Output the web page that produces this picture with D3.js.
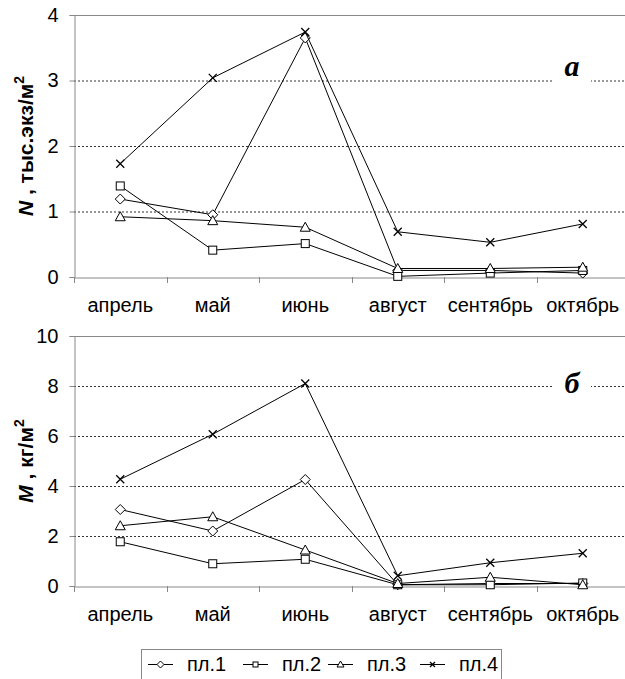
<!DOCTYPE html>
<html>
<head>
<meta charset="utf-8">
<script src="https://cdn.jsdelivr.net/npm/d3@7"></script>
<style>
  body { margin: 0; background: #fff; }
  text { font-family: "Liberation Sans", Arial, sans-serif; }
</style>
</head>
<body>
<div id="chart"></div>
<script>
var months = ['апрель', 'май', 'июнь', 'август', 'сентябрь', 'октябрь'];
var seriesNames = ['пл.1', 'пл.2', 'пл.3', 'пл.4'];
var markers = ['diamond', 'square', 'triangle', 'cross'];

// N, тыс.экз/м2
var densityPl1 = [1.19, 0.95, 3.65, 0.10, 0.10, 0.06];
var densityPl2 = [1.39, 0.41, 0.51, 0.01, 0.06, 0.10];
var densityPl3 = [0.92, 0.86, 0.76, 0.13, 0.13, 0.15];
var densityPl4 = [1.73, 3.04, 3.74, 0.69, 0.53, 0.81];
var densityTicks = [0, 1, 2, 3, 4];

// M, кг/м2
var massPl1 = [3.06, 2.20, 4.26, 0.05, 0.10, 0.10];
var massPl2 = [1.77, 0.89, 1.07, 0.05, 0.05, 0.12];
var massPl3 = [2.41, 2.77, 1.44, 0.10, 0.35, 0.05];
var massPl4 = [4.27, 6.07, 8.10, 0.41, 0.93, 1.31];
var massTicks = [0, 2, 4, 6, 8, 10];

var width = 625, height = 679;
var svg = d3.select('#chart').append('svg')
    .attr('width', width)
    .attr('height', height);

function marker(g, type, size) {
    var s = size / 2;
    if (type === 'diamond') {
        g.append('path').attr('d', 'M0,' + (-s - 1) + 'L' + (s + 1) + ',0L0,' + (s + 1) + 'L' + (-s - 1) + ',0Z')
            .attr('fill', '#fff').attr('stroke', '#000');
    } else if (type === 'square') {
        g.append('rect').attr('x', -s).attr('y', -s).attr('width', size).attr('height', size)
            .attr('fill', '#fff').attr('stroke', '#000');
    } else if (type === 'triangle') {
        g.append('path').attr('d', 'M0,' + (-s - 1) + 'L' + (s + 1) + ',' + s + 'L' + (-s - 1) + ',' + s + 'Z')
            .attr('fill', '#fff').attr('stroke', '#000');
    } else {
        g.append('path').attr('d', 'M' + (-s) + ',' + (-s) + 'L' + s + ',' + s + 'M' + s + ',' + (-s) + 'L' + (-s) + ',' + s)
            .attr('fill', 'none').attr('stroke', '#000').attr('stroke-width', 1.3);
    }
}

function panel(opts) {
    var left = 74, right = 629, top = opts.top, bottom = opts.bottom;
    var g = svg.append('g');

    var x = d3.scaleBand().domain(months).range([left, right]);
    var y = d3.scaleLinear().domain([0, opts.max]).range([bottom, top]);

    // dashed grid
    g.selectAll('line.grid').data(opts.ticks.slice(1, -1)).enter().append('line')
        .attr('x1', left).attr('x2', right)
        .attr('y1', function (d) { return y(d) + 0.5; })
        .attr('y2', function (d) { return y(d) + 0.5; })
        .attr('stroke', '#333').attr('stroke-dasharray', '2,2');

    // plot border top
    g.append('line').attr('x1', left).attr('x2', right)
        .attr('y1', top + 0.5).attr('y2', top + 0.5)
        .attr('stroke', '#888');

    // y axis
    var yAxis = g.append('g').attr('transform', 'translate(' + (left + 0.5) + ',0)')
        .call(d3.axisLeft(y).tickValues(opts.ticks).tickFormat(d3.format('d')).tickSize(5).tickPadding(11));
    yAxis.select('.domain').attr('stroke', '#888');
    yAxis.selectAll('.tick line').attr('stroke', '#888');
    yAxis.selectAll('.tick text').attr('font-size', 20).attr('fill', '#000')
        .style('font-family', '"Liberation Sans", Arial, sans-serif');

    // x axis
    var xAxis = g.append('g').attr('transform', 'translate(0,' + (bottom + 0.5) + ')')
        .call(d3.axisBottom(x).tickSize(0).tickPadding(20));
    xAxis.select('.domain').attr('stroke', '#888');
    xAxis.selectAll('.tick text').attr('font-size', 20).attr('fill', '#000')
        .style('font-family', '"Liberation Sans", Arial, sans-serif');
    g.selectAll('line.xtick').data(months).enter().append('line')
        .attr('x1', function (d) { return Math.round(x(d)) + 0.5; })
        .attr('x2', function (d) { return Math.round(x(d)) + 0.5; })
        .attr('y1', bottom).attr('y2', bottom + 6)
        .attr('stroke', '#888');

    // panel letter with white box over grid
    g.append('rect').attr('x', 553).attr('y', y(opts.letterAt) - 16).attr('width', 38).attr('height', 32)
        .attr('fill', '#fff');
    g.append('text').attr('x', 572).attr('y', y(opts.letterAt) + 9)
        .attr('text-anchor', 'middle')
        .attr('font-size', 30).attr('font-weight', 'bold').attr('font-style', 'italic')
        .style('font-family', '"Liberation Serif", "Times New Roman", serif')
        .text(opts.letter);

    // y title
    var t = g.append('text')
        .attr('transform', 'translate(' + opts.titleX + ',' + opts.titleY + ') rotate(-90)')
        .attr('text-anchor', 'middle')
        .attr('font-size', 21).attr('font-weight', 'bold');
    t.append('tspan').attr('font-style', 'italic').text(opts.titleVar);
    t.append('tspan').text(opts.titleRest);
    t.append('tspan').attr('font-size', 14).attr('dy', -9).text('2');

    var line = d3.line()
        .x(function (d, i) { return x(months[i]) + x.bandwidth() / 2; })
        .y(function (d) { return y(d); });

    opts.series.forEach(function (vals, k) {
        g.append('path').datum(vals)
            .attr('d', line)
            .attr('fill', 'none').attr('stroke', '#000').attr('stroke-width', 1);
        vals.forEach(function (v, i) {
            var mg = g.append('g').attr('transform',
                'translate(' + (x(months[i]) + x.bandwidth() / 2) + ',' + y(v) + ')');
            marker(mg, markers[k], 8);
        });
    });
}

panel({
    top: 15, bottom: 277, max: 4, ticks: densityTicks,
    series: [densityPl1, densityPl2, densityPl3, densityPl4],
    letter: 'а', letterAt: 3.2,
    titleVar: 'N', titleRest: ' , тыс.экз/м', titleX: 33, titleY: 146
});

panel({
    top: 336, bottom: 586, max: 10, ticks: massTicks,
    series: [massPl1, massPl2, massPl3, massPl4],
    letter: 'б', letterAt: 8.1,
    titleVar: 'M', titleRest: ' , кг/м', titleX: 33, titleY: 461
});

// legend
var legend = svg.append('g');
legend.append('rect').attr('x', 141.5).attr('y', 649.5).attr('width', 360).attr('height', 40)
    .attr('fill', '#fff').attr('stroke', '#888');
var legendX = [148, 243, 328, 420];
seriesNames.forEach(function (name, k) {
    var lg = legend.append('g').attr('transform', 'translate(' + legendX[k] + ',664)');
    lg.append('line').attr('x1', 0).attr('x2', 25).attr('y1', 0.5).attr('y2', 0.5).attr('stroke', '#000');
    var mg = lg.append('g').attr('transform', 'translate(12.5,0.5)');
    marker(mg, markers[k], 5);
    lg.append('text').attr('x', 39).attr('y', 7).attr('font-size', 20).text(name);
});
</script>
</body>
</html>
